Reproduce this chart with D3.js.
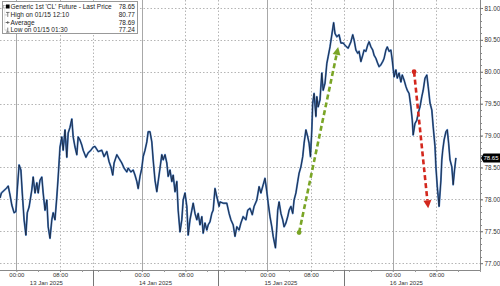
<!DOCTYPE html>
<html>
<head>
<meta charset="utf-8">
<script src="https://cdn.jsdelivr.net/npm/d3@7"></script>
<style>
  html, body { margin: 0; padding: 0; background: #fff; }
  svg { display: block; font-family: "Liberation Sans", Arial, sans-serif; }
</style>
</head>
<body>
<svg id="chart" width="500" height="286"></svg>
<script>
// trading sessions (1h daily break collapsed on the axis)
const sessions = [
  ["2025-01-12 21:00", "2025-01-13 14:00"],
  ["2025-01-13 15:00", "2025-01-14 14:00"],
  ["2025-01-14 15:00", "2025-01-15 14:00"],
  ["2025-01-15 15:00", "2025-01-16 14:00"],
];
const axisEnd = "2025-01-16 16:00";
const dayLabels = ["13 Jan 2025", "14 Jan 2025", "15 Jan 2025", "16 Jan 2025"];
const tickHours = ["00:00", "08:00"];
const days = ["2025-01-13", "2025-01-14", "2025-01-15", "2025-01-16"];
const yTicks = [77, 77.5, 78, 78.5, 79, 79.5, 80, 80.5, 81];

// Generic 1st 'CL' Future, last price
const times = [
  "2025-01-12 21:00", "2025-01-12 21:15", "2025-01-12 22:15", "2025-01-12 22:30", "2025-01-12 22:50",
  "2025-01-12 23:10", "2025-01-12 23:35", "2025-01-12 23:55", "2025-01-13 00:10", "2025-01-13 00:30",
  "2025-01-13 00:50", "2025-01-13 01:05", "2025-01-13 01:25", "2025-01-13 01:45", "2025-01-13 02:00",
  "2025-01-13 02:20", "2025-01-13 02:50", "2025-01-13 03:05", "2025-01-13 03:25", "2025-01-13 03:45",
  "2025-01-13 04:00", "2025-01-13 04:20", "2025-01-13 04:40", "2025-01-13 04:55", "2025-01-13 05:15",
  "2025-01-13 05:35", "2025-01-13 05:50", "2025-01-13 06:10", "2025-01-13 06:30", "2025-01-13 06:45",
  "2025-01-13 07:05", "2025-01-13 07:25", "2025-01-13 07:40", "2025-01-13 08:00", "2025-01-13 08:20",
  "2025-01-13 08:35", "2025-01-13 08:55", "2025-01-13 09:15", "2025-01-13 09:30", "2025-01-13 09:50",
  "2025-01-13 10:10", "2025-01-13 10:25", "2025-01-13 10:45", "2025-01-13 11:05", "2025-01-13 11:20",
  "2025-01-13 11:40", "2025-01-13 12:00", "2025-01-13 12:15", "2025-01-13 12:45", "2025-01-13 13:10",
  "2025-01-13 13:40",
  "2025-01-13 15:05", "2025-01-13 15:25", "2025-01-13 16:00", "2025-01-13 16:40", "2025-01-13 17:05",
  "2025-01-13 17:35", "2025-01-13 18:00", "2025-01-13 18:20", "2025-01-13 18:40", "2025-01-13 18:55",
  "2025-01-13 19:25", "2025-01-13 19:50", "2025-01-13 20:20", "2025-01-13 20:45", "2025-01-13 21:15",
  "2025-01-13 21:30", "2025-01-13 22:00", "2025-01-13 22:25", "2025-01-13 22:45", "2025-01-13 23:05",
  "2025-01-13 23:20", "2025-01-13 23:40", "2025-01-14 00:00", "2025-01-14 00:15", "2025-01-14 00:35",
  "2025-01-14 00:55", "2025-01-14 01:10", "2025-01-14 01:30", "2025-01-14 01:50", "2025-01-14 02:05",
  "2025-01-14 02:25", "2025-01-14 02:45", "2025-01-14 03:00", "2025-01-14 03:20", "2025-01-14 03:40",
  "2025-01-14 03:55", "2025-01-14 04:15", "2025-01-14 04:35", "2025-01-14 04:50", "2025-01-14 05:10",
  "2025-01-14 05:30", "2025-01-14 05:45", "2025-01-14 06:05", "2025-01-14 06:25", "2025-01-14 06:40",
  "2025-01-14 07:00", "2025-01-14 07:20", "2025-01-14 07:35", "2025-01-14 07:55", "2025-01-14 08:15",
  "2025-01-14 08:30", "2025-01-14 08:50", "2025-01-14 09:10", "2025-01-14 09:25", "2025-01-14 09:45",
  "2025-01-14 10:05", "2025-01-14 10:20", "2025-01-14 10:40", "2025-01-14 11:00", "2025-01-14 11:15",
  "2025-01-14 11:35", "2025-01-14 11:55", "2025-01-14 12:10", "2025-01-14 12:30", "2025-01-14 12:50",
  "2025-01-14 13:05", "2025-01-14 13:25", "2025-01-14 13:45",
  "2025-01-14 15:10", "2025-01-14 15:20", "2025-01-14 15:55", "2025-01-14 16:35", "2025-01-14 17:00",
  "2025-01-14 17:20", "2025-01-14 17:45", "2025-01-14 18:05", "2025-01-14 18:25", "2025-01-14 18:50",
  "2025-01-14 19:10", "2025-01-14 19:35", "2025-01-14 20:05", "2025-01-14 20:25", "2025-01-14 20:50",
  "2025-01-14 21:15", "2025-01-14 21:35", "2025-01-14 22:05", "2025-01-14 22:30", "2025-01-14 22:50",
  "2025-01-14 23:15", "2025-01-14 23:35", "2025-01-14 23:55", "2025-01-15 00:10", "2025-01-15 00:30",
  "2025-01-15 00:50", "2025-01-15 01:05", "2025-01-15 01:30", "2025-01-15 01:45", "2025-01-15 01:55",
  "2025-01-15 02:10", "2025-01-15 02:30", "2025-01-15 02:50", "2025-01-15 03:05", "2025-01-15 03:25",
  "2025-01-15 03:45", "2025-01-15 04:00", "2025-01-15 04:20", "2025-01-15 04:40", "2025-01-15 04:55",
  "2025-01-15 05:15", "2025-01-15 05:35", "2025-01-15 05:50", "2025-01-15 06:10", "2025-01-15 06:30",
  "2025-01-15 06:45", "2025-01-15 07:05", "2025-01-15 07:25", "2025-01-15 07:40", "2025-01-15 07:55",
  "2025-01-15 08:10", "2025-01-15 08:20", "2025-01-15 08:35", "2025-01-15 08:55", "2025-01-15 09:05",
  "2025-01-15 09:20", "2025-01-15 09:40", "2025-01-15 10:00", "2025-01-15 10:15", "2025-01-15 10:35",
  "2025-01-15 10:55", "2025-01-15 11:10", "2025-01-15 11:30", "2025-01-15 11:50", "2025-01-15 12:10",
  "2025-01-15 12:25", "2025-01-15 12:45", "2025-01-15 13:10", "2025-01-15 13:30", "2025-01-15 13:55",
  "2025-01-15 15:25", "2025-01-15 15:50", "2025-01-15 16:20", "2025-01-15 16:40", "2025-01-15 16:55",
  "2025-01-15 17:15", "2025-01-15 17:35", "2025-01-15 17:50", "2025-01-15 18:10", "2025-01-15 18:30",
  "2025-01-15 18:45", "2025-01-15 19:05", "2025-01-15 19:25", "2025-01-15 19:40", "2025-01-15 20:00",
  "2025-01-15 20:20", "2025-01-15 20:35", "2025-01-15 20:55", "2025-01-15 21:15", "2025-01-15 21:30",
  "2025-01-15 21:50", "2025-01-15 22:10", "2025-01-15 22:25", "2025-01-15 22:45", "2025-01-15 23:00",
  "2025-01-15 23:20", "2025-01-15 23:40", "2025-01-15 23:55", "2025-01-16 00:15", "2025-01-16 00:35",
  "2025-01-16 00:50", "2025-01-16 01:10", "2025-01-16 01:30", "2025-01-16 01:45", "2025-01-16 02:05",
  "2025-01-16 02:25", "2025-01-16 02:40", "2025-01-16 03:00", "2025-01-16 03:20", "2025-01-16 03:35",
  "2025-01-16 03:45", "2025-01-16 04:05", "2025-01-16 04:25", "2025-01-16 04:40", "2025-01-16 05:00",
  "2025-01-16 05:20", "2025-01-16 05:35", "2025-01-16 05:55", "2025-01-16 06:15", "2025-01-16 06:30",
  "2025-01-16 06:50", "2025-01-16 07:10", "2025-01-16 07:25", "2025-01-16 07:45", "2025-01-16 07:55",
  "2025-01-16 08:10", "2025-01-16 08:30", "2025-01-16 08:50", "2025-01-16 09:00", "2025-01-16 09:10",
  "2025-01-16 09:25", "2025-01-16 09:45", "2025-01-16 10:00", "2025-01-16 10:15", "2025-01-16 10:30",
  "2025-01-16 10:50", "2025-01-16 11:05", "2025-01-16 11:20", "2025-01-16 11:35",
];
const prices = [
  78.02, 78.10, 78.18, 78.21, 78.07, 77.91, 77.79, 77.81, 78.15, 78.54,
  78.46, 78.10, 77.68, 77.44, 77.79, 77.88, 78.15, 78.35, 78.10, 78.26,
  78.10, 78.30, 78.35, 78.10, 77.83, 77.99, 77.57, 77.39, 77.68, 77.79,
  77.68, 78.04, 78.35, 78.82, 78.98, 78.77, 79.09, 78.66, 79.04, 79.13,
  79.26, 78.98, 78.82, 78.70, 78.98, 78.93, 78.85, 78.77, 78.66, 78.73,
  78.77,
  78.82, 78.83, 78.75, 78.77, 78.67, 78.75, 78.59, 78.51, 78.38, 78.57,
  78.70, 78.64, 78.57, 78.49, 78.43, 78.49, 78.43, 78.46, 78.38, 78.28,
  78.17, 78.36, 78.49, 78.67, 78.77, 78.90, 79.06, 79.06, 78.90, 78.62,
  78.30, 78.12, 78.28, 78.49, 78.70, 78.62, 78.70, 78.57, 78.36, 78.46,
  78.28, 78.38, 78.12, 78.28, 77.83, 77.49, 77.68, 77.99, 78.10, 77.89,
  77.44, 77.68, 77.83, 77.94, 77.78, 77.68, 77.78, 77.60, 77.73, 77.47,
  77.63, 77.52, 77.60, 77.65, 77.78, 77.83, 78.17, 78.04,
  77.89, 77.96, 77.94, 77.94, 77.78, 77.68, 77.60, 77.42, 77.57, 77.52,
  77.63, 77.73, 77.68, 77.83, 77.86, 77.76, 77.89, 77.99, 78.20, 78.10,
  78.23, 78.33, 78.12, 77.94, 77.73, 77.57, 77.42, 77.24, 77.57, 77.83,
  77.96, 77.78, 77.68, 77.57, 77.63, 77.73, 77.83, 77.89, 77.78, 77.99,
  78.10, 78.28, 78.41, 78.51, 78.67, 78.88, 79.09, 78.98, 78.88, 78.67,
  79.09, 79.51, 79.66, 79.30, 79.61, 79.45, 79.56, 79.98, 79.71, 79.82,
  80.13, 80.24, 80.39, 80.58, 80.77, 80.60, 80.55, 80.58, 80.45, 80.45,
  80.40, 80.37, 80.47, 80.58, 80.50, 80.34, 80.29, 80.32, 80.16, 80.26,
  80.34, 80.32, 80.42, 80.47, 80.39, 80.34, 80.26, 80.21, 80.13, 80.08,
  80.11, 80.16, 80.21, 80.34, 80.39, 80.32, 80.34, 80.18, 79.92, 80.03,
  79.90, 79.98, 79.84, 79.95, 79.87, 79.77, 79.71, 79.66, 79.45, 79.24,
  79.01, 79.19, 79.24, 79.35, 79.45, 79.61, 79.71, 79.90, 79.95, 79.77,
  79.51, 79.40, 79.14, 78.83, 78.51, 78.20, 77.89, 78.30, 78.62, 78.77,
  78.93, 79.06, 79.09, 78.88, 78.62, 78.51, 78.23, 78.46, 78.65,
];

const legendRows = [
  ["Generic 1st 'CL' Future - Last Price", "78.65"],
  ["High on 01/15 12:10", "80.77"],
  ["Average", "78.69"],
  ["Low on 01/15 01:30", "77.24"],
];
const lastPrice = 78.65;

// drawn annotations: [from time, from price, to time, to price]
const greenArrow = ["2025-01-15 05:50", 77.48, "2025-01-15 13:00", 80.39];
const redArrow = ["2025-01-16 03:55", 80.00, "2025-01-16 06:30", 77.86];

const parse = d3.timeParse("%Y-%m-%d %H:%M");
const width = 500, height = 286;
const plotW = 480, plotH = 270;

// polylinear time scale, each break has zero width
const domain = [];
const range = [];
let acc = 0;
sessions.forEach((s, i) => {
  const a = parse(s[0]);
  const b = i === sessions.length - 1 ? parse(axisEnd) : parse(s[1]);
  domain.push(a, b);
  range.push(acc);
  acc += (b - a) / 36e5;
  range.push(acc);
});
const kx = plotW / acc;
const x = d3.scaleTime().domain(domain).range(range.map((r) => r * kx));
const y = d3.scaleLinear().domain([76.893, 81.125]).range([plotH, 0]);

const data = times.map((t, i) => ({ date: parse(t), price: prices[i] }));

const svg = d3.select("#chart");

// gridlines
svg.append("g")
  .selectAll("line")
  .data(yTicks)
  .join("line")
  .attr("x1", 0)
  .attr("x2", plotW)
  .attr("y1", (d) => Math.round(y(d)) + 0.5)
  .attr("y2", (d) => Math.round(y(d)) + 0.5)
  .attr("stroke", "#b5b5b5")
  .attr("stroke-dasharray", "1.5,2");

const midnights = days.map((d) => parse(d + " 00:00"));
const eights = days.map((d) => parse(d + " 08:00"));
const seps = sessions.slice(1).map((s) => parse(s[0]));

svg.append("g")
  .selectAll("line")
  .data(eights.concat(seps))
  .join("line")
  .attr("x1", (d) => Math.round(x(d)) + 0.5)
  .attr("x2", (d) => Math.round(x(d)) + 0.5)
  .attr("y1", 0)
  .attr("y2", plotH)
  .attr("stroke", "#b5b5b5")
  .attr("stroke-dasharray", "1.5,2");

svg.append("g")
  .selectAll("line")
  .data(midnights)
  .join("line")
  .attr("x1", (d) => Math.round(x(d)) + 0.5)
  .attr("x2", (d) => Math.round(x(d)) + 0.5)
  .attr("y1", 0)
  .attr("y2", plotH)
  .attr("stroke", "#a8a8a8");

// price line
const line = d3.line()
  .x((d) => x(d.date))
  .y((d) => y(d.price));

svg.append("path")
  .datum(data)
  .attr("fill", "none")
  .attr("stroke", "#4d7fc2")
  .attr("stroke-width", 1.9)
  .attr("stroke-linejoin", "round")
  .attr("d", line);

svg.append("path")
  .datum(data)
  .attr("fill", "none")
  .attr("stroke", "#111c30")
  .attr("stroke-width", 0.8)
  .attr("d", line);

// arrows
function drawArrow(a, color) {
  const x1 = x(parse(a[0])), y1 = y(a[1]);
  const x2 = x(parse(a[2])), y2 = y(a[3]);
  const ang = Math.atan2(y2 - y1, x2 - x1);
  const head = 8, half = 4;
  const bx = x2 - head * Math.cos(ang), by = y2 - head * Math.sin(ang);
  svg.append("line")
    .attr("x1", x1).attr("y1", y1)
    .attr("x2", bx).attr("y2", by)
    .attr("stroke", color)
    .attr("stroke-width", 2.6)
    .attr("stroke-dasharray", "5,3");
  svg.append("circle")
    .attr("cx", x1).attr("cy", y1).attr("r", 2.4)
    .attr("fill", color);
  const px = -Math.sin(ang), py = Math.cos(ang);
  svg.append("path")
    .attr("d", `M${x2},${y2}L${bx + px * half},${by + py * half}L${bx - px * half},${by - py * half}Z`)
    .attr("fill", color);
}
drawArrow(greenArrow, "#7aa526");
drawArrow(redArrow, "#d3271d");

// right axis
const yAxis = svg.append("g")
  .attr("transform", `translate(${plotW},0)`)
  .call(d3.axisRight(y).tickValues(yTicks).tickSize(3).tickPadding(1.5).tickFormat(d3.format(".2f")));
yAxis.select(".domain").attr("stroke", "#888").attr("d", `M0.5,0V${plotH}`);
yAxis.selectAll(".tick line").attr("stroke", "#666");
yAxis.selectAll("text").attr("fill", "#333").style("font-size", "6.3px");

svg.append("g")
  .attr("transform", `translate(${plotW},0)`)
  .selectAll("line")
  .data(d3.range(77, 81.01, 0.1))
  .join("line")
  .attr("x1", 0.5)
  .attr("x2", 2)
  .attr("y1", (d) => Math.round(y(d)) + 0.5)
  .attr("y2", (d) => Math.round(y(d)) + 0.5)
  .attr("stroke", "#888");

// last price tag
const ly = y(lastPrice);
svg.append("path")
  .attr("d", `M${plotW + 1},${ly}L${plotW + 3.5},${ly - 4.5}H500V${ly + 4.5}H${plotW + 3.5}Z`)
  .attr("fill", "#000");
svg.append("text")
  .attr("x", 498.5)
  .attr("y", ly + 2.2)
  .attr("text-anchor", "end")
  .attr("fill", "#fff")
  .style("font-size", "6px")
  .text(d3.format(".2f")(lastPrice));

// bottom axis
const xTicks = days.flatMap((d) => tickHours.map((h) => parse(d + " " + h)));
const xAxis = svg.append("g")
  .attr("transform", `translate(0,${plotH})`)
  .call(d3.axisBottom(x).tickValues(xTicks).tickSize(2).tickPadding(0.5).tickFormat(d3.timeFormat("%H:%M")));
xAxis.select(".domain").attr("stroke", "#888").attr("d", `M0,0.5H${plotW + 0.5}`);
xAxis.selectAll(".tick line").attr("stroke", "#888");
xAxis.selectAll("text").attr("fill", "#333").style("font-size", "6px");

const minorX = days.flatMap((d) => ["04:00", "12:00", "16:00", "20:00"].map((h) => parse(d + " " + h)))
  .filter((d) => x(d) > 0 && x(d) < plotW);
svg.append("g")
  .selectAll("line")
  .data(minorX)
  .join("line")
  .attr("x1", (d) => Math.round(x(d)) + 0.5)
  .attr("x2", (d) => Math.round(x(d)) + 0.5)
  .attr("y1", plotH)
  .attr("y2", plotH + 2)
  .attr("stroke", "#999");

svg.append("g")
  .selectAll("line")
  .data(seps)
  .join("line")
  .attr("x1", (d) => Math.round(x(d)) + 0.5)
  .attr("x2", (d) => Math.round(x(d)) + 0.5)
  .attr("y1", plotH)
  .attr("y2", height)
  .attr("stroke", "#777");

svg.append("g")
  .selectAll("text")
  .data(sessions)
  .join("text")
  .attr("x", (s) => (Math.max(0, x(parse(s[0]))) + Math.min(plotW, x(parse(s[1])))) / 2)
  .attr("y", 284.8)
  .attr("text-anchor", "middle")
  .attr("fill", "#333")
  .style("font-size", "6px")
  .text((s, i) => dayLabels[i]);

// legend box
const lg = svg.append("g").attr("transform", "translate(2,1)");
lg.append("rect")
  .attr("x", 0.5).attr("y", 0.5)
  .attr("width", 135).attr("height", 32)
  .attr("fill", "#fff")
  .attr("stroke", "#999");
lg.append("rect")
  .attr("x", 1.5).attr("y", 4.5).attr("width", 2.5).attr("height", 2.5)
  .attr("fill", "none").attr("stroke", "#999").attr("stroke-width", 0.6);
lg.append("line")
  .attr("x1", 2.75).attr("x2", 2.75).attr("y1", 7.5).attr("y2", 29)
  .attr("stroke", "#aaa").attr("stroke-width", 0.6).attr("stroke-dasharray", "1,1");

const rowH = 7.6;
const rows = lg.selectAll(".row")
  .data(legendRows)
  .join("g")
  .attr("class", "row")
  .attr("transform", (d, i) => `translate(0,${8.3 + i * rowH})`);
rows.append("line")
  .attr("x1", 2.75).attr("x2", 5).attr("y1", -2).attr("y2", -2)
  .attr("stroke", "#aaa").attr("stroke-width", 0.6);
rows.append("text")
  .attr("x", 8.5)
  .attr("fill", "#222")
  .style("font-size", "6.5px")
  .text((d) => d[0]);
rows.append("text")
  .attr("x", 133)
  .attr("text-anchor", "end")
  .attr("fill", "#222")
  .style("font-size", "6.5px")
  .text((d) => d[1]);

// legend icons
const ic = lg.append("g").attr("stroke", "#444").attr("stroke-width", 0.7).attr("fill", "none");
lg.append("rect").attr("x", 4).attr("y", 3.5).attr("width", 3.6).attr("height", 4).attr("fill", "#000");
ic.append("path").attr("d", `M4,${8.3 + rowH - 4.5}H7.5M5.75,${8.3 + rowH - 4.5}V${8.3 + rowH}`);
ic.append("path").attr("d", `M4,${8.3 + 2 * rowH - 2}H7.5M5.75,${8.3 + 2 * rowH - 3.5}V${8.3 + 2 * rowH - 0.5}`);
ic.append("path").attr("d", `M4,${8.3 + 3 * rowH}H7.5M5.75,${8.3 + 3 * rowH - 4.5}V${8.3 + 3 * rowH}`);
</script>
</body>
</html>
